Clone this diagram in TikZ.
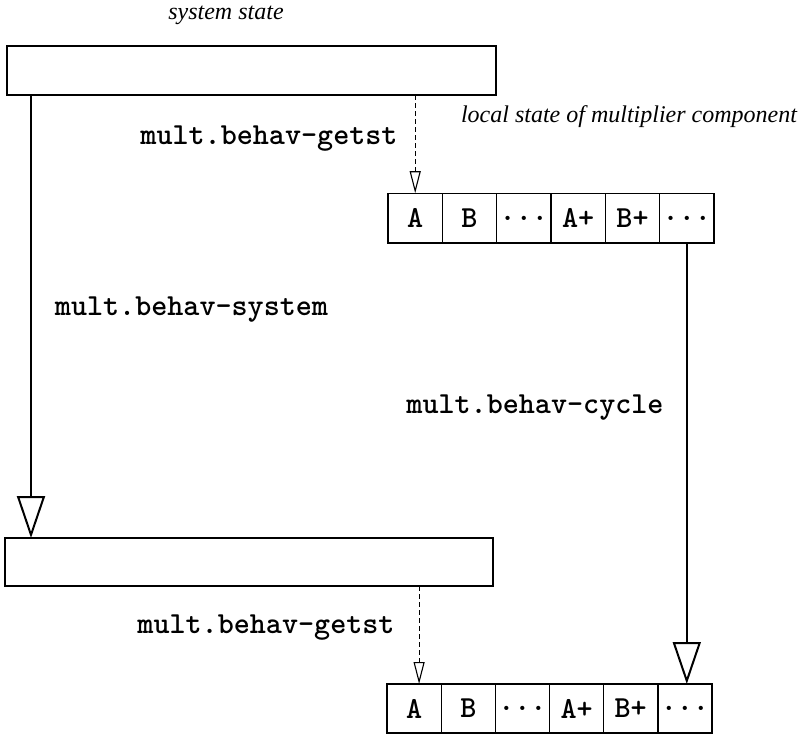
\documentclass[tikz,border=0pt]{standalone}
\usepackage{fontspec}
\setmainfont{Liberation Serif}
\usetikzlibrary{arrows.meta}
\begin{document}
\begin{tikzpicture}[x=0.5pt,y=-0.5pt,
  statebox/.style={draw, line width=0.75pt, inner sep=0pt, outer sep=0pt},
  cellbox/.style={draw, line width=0.7pt, inner sep=0pt, outer sep=0pt,
    minimum width=27.1pt, minimum height=24.8pt,
    font=\ttfamily\bfseries\fontsize{15.3}{17}\selectfont},
  codelbl/.style={inner sep=0pt, font=\ttfamily\bfseries\fontsize{15.3}{17}\selectfont},
  itallbl/.style={inner sep=0pt, font=\itshape\fontsize{12}{14}\selectfont},
  bigarr/.style={line width=1pt, -{Triangle[open, length=21pt, width=14pt, line width=1pt]}},
  smallarr/.style={line width=0.55pt, dash pattern=on 2.5pt off 1.5pt,
    -{Triangle[open, length=11pt, width=5.5pt, line width=0.55pt]}}]
\useasboundingbox (0,0) rectangle (805,734);

% system state boxes
\node[statebox, minimum width=244.5pt, minimum height=24.5pt] (sys1) at (251.5,70.5) {};
\node[statebox, minimum width=244pt, minimum height=24pt] (sys2) at (249,562) {};

% local state cells (top)
\node[cellbox] (t1) at (415.2,218) {A};
\node[cellbox] (t2) at (469.5,218) {B};
\node[cellbox] (t3) at (523.8,218) {...};
\node[cellbox] (t4) at (578.2,218) {A+};
\node[cellbox] (t5) at (632.5,218) {B+};
\node[cellbox] (t6) at (686.8,218) {...};

% local state cells (bottom)
\node[cellbox, minimum height=24.5pt] (b1) at (414.1,708.5) {A};
\node[cellbox, minimum height=24.5pt] (b2) at (468.3,708.5) {B};
\node[cellbox, minimum height=24.5pt] (b3) at (522.4,708.5) {...};
\node[cellbox, minimum height=24.5pt] (b4) at (576.6,708.5) {A+};
\node[cellbox, minimum height=24.5pt] (b5) at (630.7,708.5) {B+};
\node[cellbox, minimum height=24.5pt] (b6) at (684.9,708.5) {...};

% labels
\node[itallbl] (lsys) at (226,15) {system state};
\node[itallbl] (lloc) at (629,117) {local state of multiplier component};
\node[codelbl] (lget1) at (269,139) {mult.behav-getst};
\node[codelbl] (lsystem) at (191.5,310) {mult.behav-system};
\node[codelbl] (lcycle) at (535,408) {mult.behav-cycle};
\node[codelbl] (lget2) at (266,628) {mult.behav-getst};

% connectors
\draw[bigarr] ([xshift=12pt]sys1.south west) -- ([xshift=12pt]sys1.south west |- sys2.north);
\draw[smallarr] (sys1.south -| t1.north) -- (t1.north);
\draw[bigarr] (t6.south) -- (t6.south |- b6.north);
\draw[smallarr] ([xshift=2.5pt]sys2.south -| b1.north) -- ([xshift=2.5pt]b1.north);
\end{tikzpicture}
\end{document}
